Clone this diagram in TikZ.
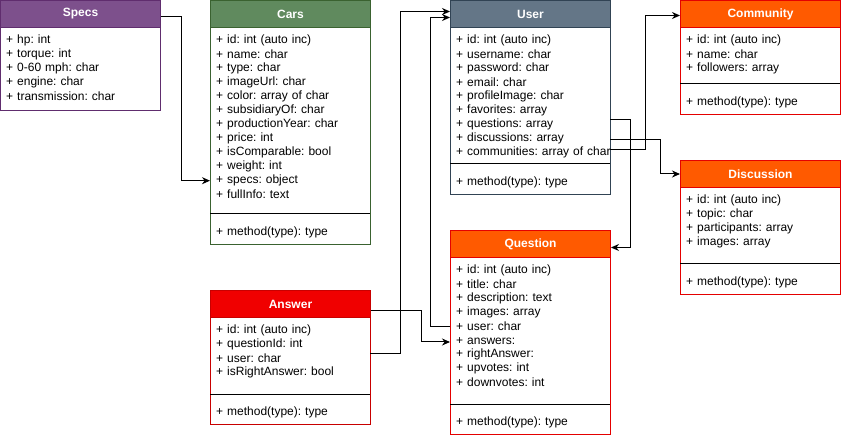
\documentclass[tikz,border=0pt]{standalone}
\usepackage{fontspec}
\setmainfont{Liberation Sans}
\usetikzlibrary{arrows.meta}

\definecolor{specsfill}{RGB}{125,80,140}
\definecolor{specsline}{RGB}{96,45,110}
\definecolor{carsfill}{RGB}{96,138,94}
\definecolor{carsline}{RGB}{58,98,48}
\definecolor{userfill}{RGB}{100,118,135}
\definecolor{userline}{RGB}{49,67,84}
\definecolor{orangefill}{RGB}{255,90,0}
\definecolor{orangeline}{RGB}{228,0,0}
\definecolor{answerfill}{RGB}{240,0,0}
\definecolor{answerline}{RGB}{200,0,0}

\tikzset{
  classbox/.style={draw, fill=white, line width=1pt, minimum width=160, inner sep=0},
  classhead/.style={draw, line width=1pt, minimum width=160, minimum height=27, inner sep=0,
    text=white, font=\fontsize{12}{14}\selectfont\bfseries},
  classrow/.style={text width=148, align=left, inner xsep=6, inner ysep=0, minimum height=14,
    font=\fontsize{12}{14}\selectfont\frenchspacing},
  link/.style={line width=1pt, -{Stealth[length=8pt,width=7pt]}}
}

\newcommand\UMLclass[8]{
  \def\X{#2} \def\Y{#3}
  \node[classbox, draw=#6line, minimum height=#4, anchor=north west] (#1-box) at (\X,\Y) {};
  \node[classhead, draw=#6line, fill=#6fill, anchor=north west] (#1) at (\X,\Y) {#7};
  \foreach \k/\t [count=\i] in {#8}
  {
    \node[classrow, anchor=west] (#1-\k) at (\X,\Y+26.7+14*\i) {\mbox{+ \t}};
  }
  \ifnum#5>0
    \draw[line width=1pt] (\X,\Y+#5) -- ++(160,0);
    \node[classrow, anchor=west] (#1-method) at (\X,\Y+#5+18.7) {+ method(type): type};
  \fi
}

\begin{document}
\begin{tikzpicture}[x=1pt, y=-1pt]
\useasboundingbox (0,0) rectangle (841,438);
\UMLclass{specs}{0}{0}{110}{0}{specs}{Specs}
  {hp/hp: int, torque/torque: int, zero/0-60 mph: char, engine/engine: char,
   trans/transmission: char}
\UMLclass{cars}{210}{0}{244}{214}{cars}{Cars}
  {id/id: int (auto inc), name/name: char, type/type: char, image/imageUrl: char,
   color/color: array of char, subsidiary/subsidiaryOf: char, year/productionYear: char,
   price/price: int, comparable/isComparable: bool, weight/weight: int,
   specs/specs: object, info/fullInfo: text}
\UMLclass{user}{450}{0}{194}{164}{user}{User}
  {id/id: int (auto inc), username/username: char, password/password: char,
   email/email: char, image/profileImage: char, favorites/favorites: array,
   questions/questions: array, discussions/discussions: array,
   communities/communities: array of char}
\UMLclass{community}{680}{0}{114}{84}{orange}{Community}
  {id/id: int (auto inc), name/name: char, followers/followers: array}
\UMLclass{discussion}{680}{160}{134}{104}{orange}{Discussion}
  {id/id: int (auto inc), topic/topic: char, participants/participants: array,
   images/images: array}
\UMLclass{question}{450}{230}{204}{174}{orange}{Question}
  {id/id: int (auto inc), title/title: char, description/description: text,
   images/images: array, user/user: char, answers/answers:, right/rightAnswer:,
   upvotes/upvotes: int, downvotes/downvotes: int}
\UMLclass{answer}{210}{290}{134}{104}{answer}{Answer}
  {id/id: int (auto inc), question/questionId: int, user/user: char,
   right/isRightAnswer: bool}

% links
\draw[link] ([yshift=-2.5]specs.east) -- ++(20,0) |- (cars-specs.west);
\draw[link] ([yshift=4.7]answer-user.east) -- ++(30,0) |- ([yshift=2.5]user.west);
\draw[link] ([yshift=-6.5]answer.east) -- ++(50,0) |- ([yshift=-1.3]question-answers.west);
\draw[link] (question-user.west) -- ++(-20,0) |- ([yshift=-3.5]user.west);
\draw[link] ([yshift=4.7]user-questions.east) -- ++(20,0) |- ([yshift=-3.5]question.east);
\draw[link] ([yshift=-1.3]user-discussions.east) -- ++(50,0) |- (discussion.west);
\draw[link] ([yshift=2.7]user-communities.east) -- ++(35,0) |- ([yshift=-1.5]community.west);
\end{tikzpicture}
\end{document}
